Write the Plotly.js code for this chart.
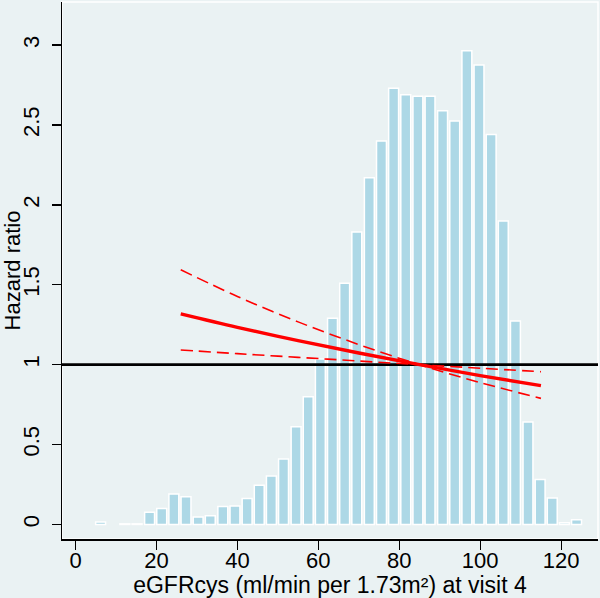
<!DOCTYPE html>
<html>
<head>
<meta charset="utf-8">
<script src="https://cdn.plot.ly/plotly-3.0.1.min.js"></script>
<style>
html,body{margin:0;padding:0;background:#EAF2F3;}
#chart{width:600px;height:598px;}
</style>
</head>
<body>
<div id="chart"></div>
<script>
// Histogram of eGFRcys (bin centres and heights on the hazard-ratio scale)
const binCenters = [6.2, 9.2, 12.2, 15.2, 18.3, 21.3, 24.3, 27.3, 30.3, 33.3,
  36.4, 39.4, 42.4, 45.4, 48.4, 51.4, 54.5, 57.5, 60.5, 63.5,
  66.5, 69.5, 72.6, 75.6, 78.6, 81.6, 84.6, 87.6, 90.7, 93.7,
  96.7, 99.7, 102.7, 105.7, 108.7, 111.8, 114.8, 117.8, 120.8, 123.8];
const binHeights = [0.015, null, 0.004, 0.004, 0.077, 0.10, 0.19, 0.173, 0.046, 0.054,
  0.112, 0.115, 0.162, 0.246, 0.304, 0.41, 0.612, 0.80, 1.035, 1.29,
  1.51, 1.83, 2.17, 2.40, 2.73, 2.69, 2.68, 2.68, 2.59, 2.525,
  2.965, 2.875, 2.44, 1.90, 1.273, 0.642, 0.281, 0.165, 0.01, 0.03];
const binWidth = 2.45;

// Hazard ratio curve and 95% CI
const egfr = [26, 40, 55, 70, 85, 100, 115];
const hr = [1.318, 1.234, 1.151, 1.073, 1.0, 0.932, 0.869];
const ciA = [1.594, 1.427, 1.268, 1.126, 1.0, 0.888, 0.789];
const ciB = [1.092, 1.069, 1.046, 1.023, 1.0, 0.978, 0.956];

const refHR = 1;
const xRange = [-3.34, 129.1];
const yRange = [-0.091, 3.27];
const yTicks = [0, 0.5, 1, 1.5, 2, 2.5, 3];
const yTickText = ['0', '0.5', '1', '1.5', '2', '2.5', '3'];
const xTicks = [0, 20, 40, 60, 80, 100, 120];

const traces = [
  {
    type: 'bar', x: binCenters, y: binHeights, width: binWidth,
    marker: {color: '#ADD8E6', line: {color: '#FFFFFF', width: 1.5}},
    hoverinfo: 'skip', showlegend: false
  },
  {
    type: 'scatter', mode: 'lines', x: xRange, y: [refHR, refHR],
    line: {color: '#000000', width: 2.8}, showlegend: false
  },
  {
    type: 'scatter', mode: 'lines', x: egfr, y: ciA, line: {color: '#FF0000', width: 1.6, dash: '12px,6px', shape: 'spline'}, showlegend: false
  },
  {
    type: 'scatter', mode: 'lines', x: egfr, y: ciB, line: {color: '#FF0000', width: 1.6, dash: '12px,6px', shape: 'spline'}, showlegend: false
  },
  {
    type: 'scatter', mode: 'lines', x: egfr, y: hr, line: {color: '#FF0000', width: 3.4, shape: 'spline'}, showlegend: false
  }
];

const font = 'Liberation Sans, Arial, sans-serif';
const layout = {
  width: 600, height: 598,
  margin: {l: 62, r: 2, t: 2, b: 59, pad: 0},
  paper_bgcolor: '#EAF2F3', plot_bgcolor: '#EAF2F3',
  font: {family: font, size: 20, color: '#000'},
  bargap: 0,
  xaxis: {
    range: xRange, tickvals: xTicks, ticks: 'outside', ticklen: 9, tickwidth: 1.3, tickcolor: '#000',
    showline: true, linecolor: '#000', linewidth: 1.5, showgrid: false, zeroline: false,
    tickfont: {family: font, size: 22}, ticklabelstandoff: -8, automargin: false,
    title: {text: 'eGFRcys (ml/min per 1.73m²) at visit 4', font: {family: font, size: 23}, standoff: 0}
  },
  yaxis: {
    range: yRange, tickvals: yTicks, ticktext: yTickText, ticks: 'outside', ticklen: 9, tickwidth: 1.3, tickcolor: '#000',
    tickangle: -90, showline: true, linecolor: '#000', linewidth: 1.5, showgrid: false, zeroline: false,
    tickfont: {family: font, size: 22}, ticklabelstandoff: 4, automargin: false,
    title: {text: 'Hazard ratio', font: {family: font, size: 22}, standoff: 2}
  },
  shapes: [
    {type: 'rect', xref: 'paper', yref: 'paper', x0: 0, x1: 1, y0: 0, y1: 1, line: {color: '#FFFFFF', width: 1.5}, layer: 'below'}
  ]
};

Plotly.newPlot('chart', traces, layout, {displayModeBar: false, staticPlot: true});
</script>
</body>
</html>
